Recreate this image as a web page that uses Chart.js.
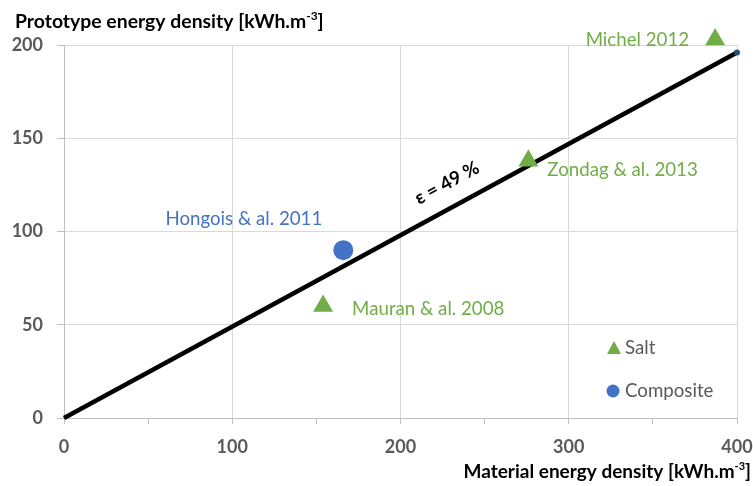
<!DOCTYPE html>
<html>
<head>
<meta charset="utf-8">
<script src="https://cdn.jsdelivr.net/npm/chart.js@4.4.1/dist/chart.umd.min.js"></script>
<style>
html,body{margin:0;padding:0;background:#fff;}
#wrap{width:753px;height:486px;}
</style>
</head>
<body>
<div id="wrap"><canvas id="c" width="753" height="486"></canvas></div>
<script>
// ---- data ----
const saltNames = ["Michel 2012", "Zondag & al. 2013", "Mauran & al. 2008"];
const saltX = [387, 276, 154];
const saltY = [203, 138, 60];
const compositeNames = ["Hongois & al. 2011"];
const compositeX = [166];
const compositeY = [90];
const efficiencyLineX = [0, 400];
const efficiencyLineY = [0, 196];
const efficiencyLabel = "ε = 49 %";
const xTicks = [0, 100, 200, 300, 400];
const yTicks = [0, 50, 100, 150, 200];
const legendLabels = ["Salt", "Composite"];
const yTitle = ["Prototype energy density [kWh.m", "-3", "]"];
const xTitle = ["Material energy density [kWh.m", "-3", "]"];

const GREEN = '#70ad47', BLUE = '#4472c4', GRAY = '#595959';
const FONT = 'Lato, "Liberation Sans", sans-serif';
const LBL = 18.7;

const toPts = (xs, ys) => xs.map((x, i) => ({x, y: ys[i]}));

function drawSup(ctx, parts, x, y, align, size) {
  ctx.save();
  ctx.textBaseline = 'alphabetic';
  ctx.textAlign = 'left';
  ctx.font = `bold ${size}px ${FONT}`;
  const w0 = ctx.measureText(parts[0]).width;
  const w2 = ctx.measureText(parts[2]).width;
  ctx.font = `bold ${Math.round(size * 0.6)}px ${FONT}`;
  const w1 = ctx.measureText(parts[1]).width;
  const total = w0 + w1 + w2;
  let sx = align === 'right' ? x - total : x;
  ctx.fillStyle = '#000';
  ctx.font = `bold ${size}px ${FONT}`;
  ctx.fillText(parts[0], sx, y);
  ctx.font = `bold ${Math.round(size * 0.6)}px ${FONT}`;
  ctx.fillText(parts[1], sx + w0, y - size * 0.4);
  ctx.font = `bold ${size}px ${FONT}`;
  ctx.fillText(parts[2], sx + w0 + w1, y);
  ctx.restore();
}

const annotPlugin = {
  id: 'annot',
  afterDatasetsDraw(chart) {
    const ctx = chart.ctx;
    const xs = chart.scales.x, ys = chart.scales.y;
    ctx.save();
    ctx.font = `${LBL}px ${FONT}`;
    ctx.textBaseline = 'middle';
    // salt labels
    const saltOff = [[-26, 1, 'right'], [19, 9, 'left'], [29, 3, 'left']];
    saltNames.forEach((n, i) => {
      const px = xs.getPixelForValue(saltX[i]), py = ys.getPixelForValue(saltY[i]);
      ctx.fillStyle = GREEN;
      ctx.textAlign = saltOff[i][2];
      ctx.fillText(n, px + saltOff[i][0], py + saltOff[i][1]);
    });
    compositeNames.forEach((n, i) => {
      const px = xs.getPixelForValue(compositeX[i]), py = ys.getPixelForValue(compositeY[i]);
      ctx.fillStyle = BLUE;
      ctx.textAlign = 'right';
      ctx.fillText(n, px - 21, py - 31);
    });
    // efficiency label along the line
    const x0 = xs.getPixelForValue(efficiencyLineX[0]), y0 = ys.getPixelForValue(efficiencyLineY[0]);
    const x1 = xs.getPixelForValue(efficiencyLineX[1]), y1 = ys.getPixelForValue(efficiencyLineY[1]);
    const ang = Math.atan2(y1 - y0, x1 - x0);
    ctx.save();
    ctx.translate(447, 183);
    ctx.rotate(ang);
    ctx.font = `bold ${LBL}px ${FONT}`;
    ctx.fillStyle = '#000';
    ctx.textAlign = 'center';
    ctx.fillText(efficiencyLabel, 0, 0);
    ctx.restore();
    // legend
    ctx.fillStyle = GREEN;
    ctx.beginPath();
    ctx.moveTo(614, 341); ctx.lineTo(621, 354); ctx.lineTo(607, 354); ctx.closePath(); ctx.fill();
    ctx.fillStyle = BLUE;
    ctx.beginPath(); ctx.arc(613, 391, 6.5, 0, Math.PI * 2); ctx.fill();
    ctx.fillStyle = GRAY;
    ctx.textAlign = 'left';
    ctx.font = `${LBL}px ${FONT}`;
    ctx.fillText(legendLabels[0], 625, 348);
    ctx.fillText(legendLabels[1], 625, 391);
    ctx.restore();
    // titles
    drawSup(ctx, yTitle, 15, 28, 'left', 19.4);
    drawSup(ctx, xTitle, 751, 478, 'right', 19);
  }
};

new Chart(document.getElementById('c'), {
  type: 'scatter',
  data: {
    datasets: [
      {
        label: legendLabels[0],
        data: toPts(saltX, saltY),
        pointStyle: 'triangle',
        pointRadius: 11.5,
        backgroundColor: GREEN,
        borderColor: GREEN,
        borderWidth: 0,
        clip: false
      },
      {
        label: legendLabels[1],
        data: toPts(compositeX, compositeY),
        pointStyle: 'circle',
        pointRadius: 10,
        backgroundColor: BLUE,
        borderColor: BLUE,
        borderWidth: 0,
        clip: false
      },
      {
        label: 'efficiency',
        data: toPts(efficiencyLineX, efficiencyLineY),
        showLine: true,
        borderColor: '#000',
        borderWidth: 4.5,
        pointRadius: [0, 3],
        pointBackgroundColor: '#1f4e79',
        pointBorderWidth: 0,
        clip: false
      }
    ]
  },
  options: {
    responsive: false,
    animation: false,
    layout: {padding: {left: 0, top: 45, right: 16, bottom: 0}},
    plugins: {legend: {display: false}, tooltip: {enabled: false}},
    scales: {
      x: {
        type: 'linear', min: 0, max: 400,
        afterBuildTicks: s => { s.ticks = [0,50,100,150,200,250,300,350,400].map(v => ({value: v})); },
        afterFit: s => { s.height = 68; s.paddingLeft = 0; s.paddingRight = 0; },
        border: {color: '#bfbfbf', width: 1},
        grid: {
          color: c => (c.tick && c.tick.value % 100 === 0 && c.tick.value !== 0) ? '#d9d9d9' : 'rgba(0,0,0,0)',
          tickColor: '#bfbfbf', tickLength: 6, drawTicks: true
        },
        ticks: {
          padding: 12, color: GRAY, font: {family: FONT, size: 18, weight: 'bold'},
          maxRotation: 0, autoSkip: false,
          callback: v => xTicks.includes(v) ? String(v) : ''
        }
      },
      y: {
        type: 'linear', min: 0, max: 200,
        afterBuildTicks: s => { s.ticks = yTicks.map(v => ({value: v})); },
        afterFit: s => { s.width = 64; s.paddingTop = 0; s.paddingBottom = 0; },
        border: {color: '#bfbfbf', width: 1},
        grid: {color: '#d9d9d9', tickColor: '#bfbfbf', tickLength: 7},
        ticks: {
          padding: 14, color: GRAY, font: {family: FONT, size: 18, weight: 'bold'},
          callback: v => String(v)
        }
      }
    }
  },
  plugins: [annotPlugin]
});
</script>
</body>
</html>
